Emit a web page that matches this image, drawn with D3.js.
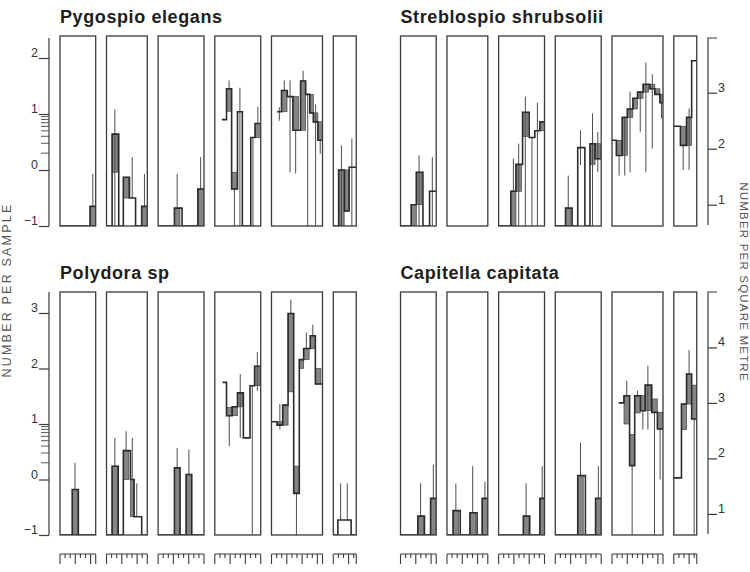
<!DOCTYPE html>
<html>
<head>
<meta charset="utf-8">
<script src="https://cdn.jsdelivr.net/npm/d3@7"></script>
<style>
  body { margin: 0; background: #fff; }
  svg { display: block; }
</style>
</head>
<body>
<svg id="chart" width="750" height="572"></svg>
<script>
// Sampling periods (months covered by each framed block)
const periodMonths = [7, 8, 9, 9, 10, 4.5];

const speciesNames = ["Pygospio elegans", "Streblospio shrubsolii", "Polydora sp", "Capitella capitata"];

// Log10 axis ticks
const leftTicksTop = [-1, 0, 1, 2];
const leftTicksBottom = [-1, 0, 1, 2, 3];
const minorCounts = [2, 3, 4, 5, 6, 7, 8, 9];
const rightTicksTop = [1, 2, 3];
const rightTicksBottom = [1, 2, 3, 4];
const perSquareMetreOffset = 1.62;   // log10 sample -> per m²

// Each sample: [month, log mean, shaded-band end, lower limit, upper limit]
const pygospio = [
  [[0, -1], [5.9, -0.65, -1, null, -0.07]],
  [[0, -1], [1.1, 0.64, -0.04, -1, 1.08], [2.4, -1], [3.3, -0.13, -0.5, null, null], [4.5, -0.5, null, null, 0.23], [5.7, -1], [6.9, -0.65, -1, null, -0.07]],
  [[0, -1], [3.2, -0.68, -1, null, -0.07], [4.7, -1], [7.8, -0.34, -1, null, 0.23]],
  [[1.4, 0.9], [2.3, 1.45, 1.05, null, 1.6], [3.3, -0.34, -0.04, -1, null], [4.45, 1.04, null, -1, 1.47], [5.4, -1], [7.05, 0.58, null, -1, null], [7.9, 0.83, 0.58, null, 1.13]],
  [[1.1, 1.04, null, 0.88, 1.12], [1.96, 1.42, 1.04, null, 1.6], [3.1, 1.31, null, -0.04, 1.6], [4.2, 0.71, 1.31, -0.06, null], [5.7, 1.59, 0.71, null, 1.77], [6.7, 1.35, null, -1, null], [7.5, 1.02, 1.35, null, null], [8.2, 0.86, 1.02, -1, 1.17], [9.1, 0.53, 0.86, 0.29, null]],
  [[0, -1], [1.05, 0, -1, -1, 0.44], [2.2, -0.73, 0, null, null], [3.1, 0.05, null, -1, 0.56]]
];

const streblospio = [
  [[0, -1], [2.1, -0.62, -1, null, null], [3.1, -0.04, -0.62, -1, 0.26], [4.4, -1], [5.7, -0.38, null, -1, 0.23]],
  [],
  [[0, -1], [2.4, -0.38, -1, null, 0.2], [3.4, 0.1, -0.38, -1, 0.47], [4.7, 1.03, 0.6, -1, 1.31], [6.0, 0.58, null, -1, null], [7.1, 0.7, null, -1, 1.2], [8.1, 0.86, 0.7, null, null]],
  [[0, -1], [2.0, -0.68, -1, null, -0.1], [3.3, -1], [4.4, 0.4, null, 0.09, 0.71], [5.8, -1], [6.8, 0.47, 0.1, -1, 1.01], [7.8, 0.2, 0.47, -0.04, 0.68]],
  [[0, 0.53], [0.85, 0.26, 0.53, -0.1, null], [2.0, 0.94, 0.26, -0.1, null], [3.0, 1.09, 0.94, -0.04, 1.4], [4.1, 1.28, 1.09, null, null], [5.0, 1.39, 1.28, 0.68, null], [6.1, 1.53, 1.39, -0.04, 1.92], [7.4, 1.45, 1.53, 0.38, 1.71], [8.4, 1.35, 1.45, null, null], [9.4, 1.2, 1.35, 0.92, null]],
  [[0, 0.78], [1.3, 0.44, 0.78, 0, null], [2.5, 0.94, 0.44, 0, 1.1], [3.5, 1.95, null, null, null]]
];

const polydora = [
  [[0, -1], [2.4, -0.18, -1, null, 0.3], [3.6, -1]],
  [[0, -1], [1.1, 0.24, -1, null, 0.75], [2.3, -1], [3.3, 0.52, 0.0, null, 0.87], [4.7, 0, -0.67, null, 0.75], [5.4, -0.67, null, null, -0.07], [6.9, -1]],
  [[0, -1], [3.2, 0.21, -1, null, 0.57], [4.3, -1], [5.5, 0.09, -1, null, 0.54], [6.6, -1]],
  [[1.5, 1.75], [2.3, 1.15, 1.3, 0.6, null], [3.4, 1.31, 1.15, null, null], [4.45, 1.56, 1.31, 0.75, 1.9], [5.6, 0.75, null, null, null], [6.9, 1.69, null, -1, null], [7.8, 2.04, 1.69, 1.6, 2.3]],
  [[0, 1.04], [1.1, 0.98, 1.04, 0.9, 1.36], [2.2, 1.34, 0.98, null, null], [3.25, 2.99, 1.58, null, 3.24], [4.35, -0.25, 0.24, -1, null], [5.45, 2.16, 2.0, null, null], [6.3, 2.36, 2.16, null, 2.65], [7.6, 2.59, 2.36, null, 2.79], [8.6, 1.72, 2.0, null, null]],
  [[0, -1], [0.9, -0.73, null, null, -0.07], [2.2, -0.73, null, null, -0.07], [3.5, -1]]
];

const capitella = [
  [[0, -1], [3.4, -0.66, -1, null, -0.07], [4.7, -1], [5.9, -0.34, -1, null, 0.27]],
  [[0, -1], [1.2, -0.56, -1, null, -0.07], [2.6, -1], [4.5, -0.6, -1, null, 0.24], [5.9, -1], [6.9, -0.34, -1, null, -0.04]],
  [[0, -1], [4.85, -0.66, -1, null, -0.07], [6.1, -1], [8.1, -0.34, -1, null, 0.24]],
  [[0, -1], [4.4, 0.07, -1, null, 0.66], [5.9, -1], [7.9, -0.34, -1, null, 0.24]],
  [[1.3, 1.38], [2.35, 1.51, 1.0, null, 1.78], [3.45, 0.25, 0.81, -1, null], [4.45, 1.51, 1.2, null, 1.6], [5.6, 1.24, 1.51, 0.9, null], [6.5, 1.7, 1.24, 0.9, 2.05], [7.8, 1.21, 1.45, -1, null], [8.9, 0.91, 1.21, 0, null]],
  [[0, 0.03], [1.5, 1.36, 0.9, null, null], [2.5, 1.9, 1.36, null, 2.33], [3.5, 1.09, 1.7, -1, null]]
];

// ---- layout ----
const svg = d3.select("#chart");
const INK = "#2b2b2b";
const FONT = "'Liberation Sans', Arial, Helvetica, sans-serif";
const pxPerMonth = 5.1, blockGap = 10.8;
const colStart = [60, 400.5];
const rowGeom = [
  { top: 36, bottom: 226, domain: [-1, 2], range: [226, 58], titleY: 23, axisTop: 38 },
  { top: 292, bottom: 535, domain: [-1, 3], range: [535, 313], titleY: 279, axisTop: 292 }
];

const panels = [
  { name: speciesNames[0], data: pygospio, col: 0, row: 0 },
  { name: speciesNames[1], data: streblospio, col: 1, row: 0 },
  { name: speciesNames[2], data: polydora, col: 0, row: 1 },
  { name: speciesNames[3], data: capitella, col: 1, row: 1 }
];

function blockScales(col) {
  let x0 = colStart[col];
  return periodMonths.map(n => {
    const s = d3.scaleLinear().domain([0, n]).range([x0, x0 + n * pxPerMonth]);
    x0 += n * pxPerMonth + blockGap;
    return s;
  });
}

panels.forEach((p, pi) => {
  const g = rowGeom[p.row];
  const y = d3.scaleLinear().domain(g.domain).range(g.range);
  const xs = blockScales(p.col);
  const pg = svg.append("g");

  pg.append("text")
    .attr("x", colStart[p.col]).attr("y", g.titleY)
    .attr("font-family", FONT).attr("font-weight", "bold")
    .attr("font-size", 18).attr("letter-spacing", 0.6)
    .attr("fill", "#1e1e1e").text(p.name);

  p.data.forEach((samples, k) => {
    const x = xs[k];
    const n = periodMonths[k];
    const bg = pg.append("g");
    const clipId = `clip-${pi}-${k}`;
    bg.append("clipPath").attr("id", clipId).append("rect")
      .attr("x", x(0)).attr("y", g.top).attr("width", x(n) - x(0)).attr("height", g.bottom - g.top);
    const inner = bg.append("g").attr("clip-path", `url(#${clipId})`);

    const nextX = i => x(i + 1 < samples.length ? samples[i + 1][0] : n);
    const barW = i => Math.min(nextX(i) - x(samples[i][0]), 5.5);

    // shaded bands
    samples.forEach((s, i) => {
      if (s[2] == null || s[2] === undefined) return;
      const y0 = y(Math.max(s[1], s[2])), y1 = y(Math.min(s[1], s[2]));
      inner.append("rect")
        .attr("x", x(s[0])).attr("y", y0)
        .attr("width", barW(i)).attr("height", Math.max(0, y1 - y0))
        .attr("fill", "#858585").attr("stroke", "#444").attr("stroke-width", 0.7);
    });

    // confidence limits
    samples.forEach((s, i) => {
      const cx = x(s[0]) + barW(i) / 2;
      if (s[3] != null) {
        inner.append("line").attr("x1", cx).attr("x2", cx)
          .attr("y1", y(s[3])).attr("y2", y(s[1]))
          .attr("stroke", "#4d4d4d").attr("stroke-width", 1);
      }
      if (s[4] != null) {
        inner.append("line").attr("x1", cx).attr("x2", cx)
          .attr("y1", y(s[1])).attr("y2", y(s[4]))
          .attr("stroke", "#4d4d4d").attr("stroke-width", 1);
      }
    });

    // stepped mean
    if (samples.length) {
      const pts = samples.map(s => [s[0], s[1]]);
      pts.push([n, samples[samples.length - 1][1]]);
      inner.append("path")
        .attr("d", d3.line().curve(d3.curveStepAfter).x(d => x(d[0])).y(d => y(d[1]))(pts))
        .attr("fill", "none").attr("stroke", INK).attr("stroke-width", 1.6);
    }

    // frame
    bg.append("rect")
      .attr("x", x(0)).attr("y", g.top).attr("width", x(n) - x(0)).attr("height", g.bottom - g.top)
      .attr("fill", "none").attr("stroke", "#3a3a3a").attr("stroke-width", 1.3);

    // month comb under the lower row
    if (p.row === 1) {
      const cy = 554;
      const comb = pg.append("g").attr("stroke", "#3a3a3a").attr("stroke-width", 1.1);
      comb.append("line").attr("x1", x(0)).attr("x2", x(n)).attr("y1", cy).attr("y2", cy);
      const ticks = d3.range(0, Math.floor(n) + 1);
      if (ticks[ticks.length - 1] !== n) ticks.push(n);
      ticks.forEach(m => {
        const long = m === 0 || m === n || m % 3 === 0;
        comb.append("line").attr("x1", x(m)).attr("x2", x(m))
          .attr("y1", cy).attr("y2", cy + (long ? 10 : 4));
      });
    }
  });

  // left axis (number per sample)
  if (p.col === 0) {
    const ax = 49;
    const axg = pg.append("g").attr("transform", `translate(${ax},0)`);
    axg.call(d3.axisLeft(y).tickValues(p.row === 0 ? leftTicksTop : leftTicksBottom)
      .tickSize(10).tickSizeOuter(0).tickPadding(1).tickFormat(d3.format("d")));
    axg.select(".domain").remove();
    axg.selectAll(".tick line").attr("stroke", "#3a3a3a").attr("stroke-width", 1.2);
    axg.selectAll(".tick text").attr("dy", "-0.12em").attr("font-family", FONT)
      .attr("font-size", 12.5).attr("fill", "#333");
    axg.append("line").attr("x1", 0).attr("x2", 0).attr("y1", g.axisTop).attr("y2", y(-1))
      .attr("stroke", "#3a3a3a").attr("stroke-width", 1.2);
    minorCounts.forEach(c => {
      axg.append("line").attr("x1", -8).attr("x2", 0)
        .attr("y1", y(Math.log10(c))).attr("y2", y(Math.log10(c)))
        .attr("stroke", "#444").attr("stroke-width", 0.9);
    });
  } else {
    // right axis (number per square metre)
    const ax = 708;
    const yr = d3.scaleLinear()
      .domain(g.domain.map(v => v + perSquareMetreOffset)).range(g.range);
    const axg = pg.append("g").attr("transform", `translate(${ax},0)`);
    axg.call(d3.axisRight(yr).tickValues(p.row === 0 ? rightTicksTop : rightTicksBottom)
      .tickSize(9).tickSizeOuter(0).tickPadding(1).tickFormat(d3.format("d")));
    axg.select(".domain").remove();
    axg.selectAll(".tick line").attr("stroke", "#3a3a3a").attr("stroke-width", 1.2);
    axg.selectAll(".tick text").attr("dy", "-0.12em").attr("font-family", FONT)
      .attr("font-size", 12.5).attr("fill", "#333");
    axg.append("path")
      .attr("d", `M9,${g.axisTop}H0V${g.bottom - 1}`)
      .attr("fill", "none").attr("stroke", "#3a3a3a").attr("stroke-width", 1.2);
  }
});

// axis titles
svg.append("text")
  .attr("transform", "translate(11,290) rotate(-90)")
  .attr("text-anchor", "middle").attr("font-family", FONT)
  .attr("font-size", 12.5).attr("letter-spacing", 2.2).attr("fill", "#555")
  .text("NUMBER PER SAMPLE");
svg.append("text")
  .attr("transform", "translate(740,282) rotate(90)")
  .attr("text-anchor", "middle").attr("font-family", FONT)
  .attr("font-size", 11.5).attr("letter-spacing", 1.2).attr("fill", "#555")
  .text("NUMBER PER SQUARE METRE");
</script>
</body>
</html>
